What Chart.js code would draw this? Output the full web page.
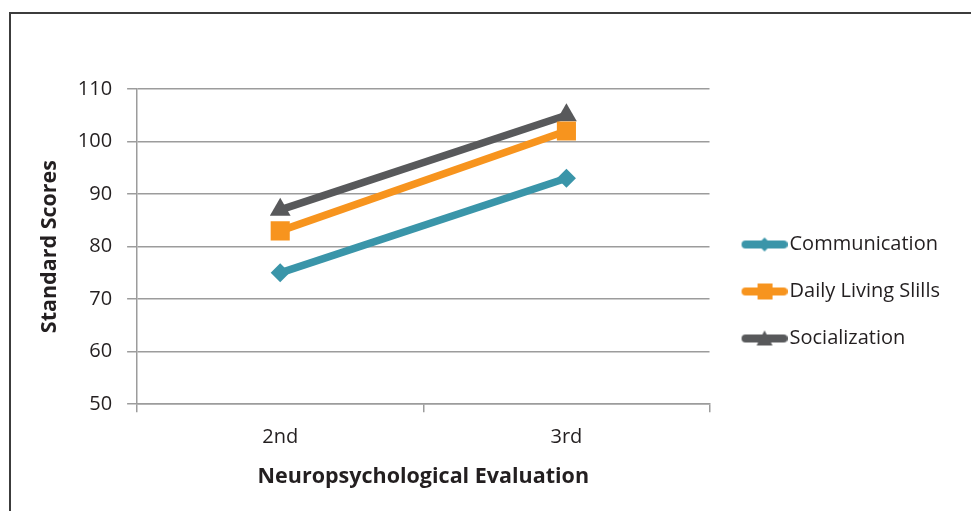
<!DOCTYPE html>
<html>
<head>
<meta charset="utf-8">
<script src="https://cdn.jsdelivr.net/npm/chart.js@4"></script>
<style>
  html, body { margin: 0; padding: 0; background: #fff; overflow: hidden; }
  #frame {
    position: absolute; left: 9px; top: 12px; width: 990px; height: 530px;
    border: 2px solid #3c3c3c; box-sizing: border-box;
  }
  #wrap { position: absolute; left: 0; top: 0; width: 971px; height: 511px; }
</style>
</head>
<body>
<div id="frame"></div>
<div id="wrap"><canvas id="evalChart" width="971" height="511"></canvas></div>
<script>
const evaluations = ["2nd", "3rd"];
const communication = [75, 93];
const dailyLiving = [83, 102];
const socialization = [87, 105];
const yTicks = [50, 60, 70, 80, 90, 100, 110];

const TEAL = "#3A95A9";
const ORANGE = "#F7941E";
const GRAY = "#58595B";
const FONT = "'Open Sans'";

// legend swatch: short thick line with the marker in the middle.
// the blank strip on the left keeps a gap between plot and legend
const SWATCH_GAP = 13;
function legendSwatch(color, style) {
    const c = document.createElement('canvas');
    c.width = 46 + SWATCH_GAP; c.height = 20;
    const g = c.getContext('2d');
    g.translate(SWATCH_GAP, 0);
    g.strokeStyle = color;
    g.lineWidth = 8;
    g.lineCap = 'round';
    g.beginPath();
    g.moveTo(4, 10); g.lineTo(42, 10);
    g.stroke();
    g.fillStyle = color;
    g.beginPath();
    if (style === 'rectRot') {
        g.moveTo(23, 3); g.lineTo(30, 10); g.lineTo(23, 17); g.lineTo(16, 10);
    } else if (style === 'rect') {
        g.rect(16, 2, 15, 16);
    } else {
        g.moveTo(23, 2); g.lineTo(31, 17); g.lineTo(15, 17);
    }
    g.closePath();
    g.fill();
    return c;
}

const series = [
    { label: "Communication", data: communication, color: TEAL, style: 'rectRot', r: 9.5 },
    { label: "Daily Living Slills", data: dailyLiving, color: ORANGE, style: 'rect', r: 13.5 },
    { label: "Socialization", data: socialization, color: GRAY, style: 'triangle', r: 12 }
];
const swatches = series.map(s => legendSwatch(s.color, s.style));

const ctx = document.getElementById('evalChart').getContext('2d');
new Chart(ctx, {
    type: 'line',
    data: {
        labels: evaluations,
        datasets: series.map(s => ({
            label: s.label,
            data: s.data,
            borderColor: s.color,
            backgroundColor: s.color,
            borderWidth: 7.5,
            pointStyle: s.style,
            pointRadius: s.r,
            pointHoverRadius: s.r,
            pointBorderWidth: 0,
            tension: 0
        }))
    },
    options: {
        responsive: false,
        animation: false,
        layout: { padding: { left: 37, top: 89, right: 21, bottom: 17 } },
        plugins: {
            tooltip: { enabled: false },
            legend: {
                position: 'right',
                maxWidth: 320,
                labels: {
                    usePointStyle: true,
                    pointStyleWidth: 30 + SWATCH_GAP,
                    padding: 27,
                    color: '#231F20',
                    font: { family: FONT, size: 20 },
                    generateLabels(chart) {
                        const items = Chart.defaults.plugins.legend.labels.generateLabels(chart);
                        items.forEach((it, i) => { it.pointStyle = swatches[i]; });
                        return items;
                    }
                }
            }
        },
        scales: {
            x: {
                offset: true,
                grid: { offset: true, drawOnChartArea: false, color: '#9C9C9C', lineWidth: 1.5, tickLength: 8 },
                border: { color: '#9C9C9C', width: 1.5 },
                ticks: { color: '#231F20', padding: 13, font: { family: FONT, size: 20 } },
                title: {
                    display: true,
                    text: 'Neuropsychological Evaluation',
                    color: '#231F20',
                    padding: { top: 2, bottom: 4 },
                    font: { family: FONT, size: 21.5, weight: 'bold' }
                }
            },
            y: {
                min: 50,
                max: 110,
                afterBuildTicks(axis) { axis.ticks = yTicks.map(v => ({ value: v })); },
                grid: { color: '#9C9C9C', lineWidth: 1.5, tickLength: 10 },
                border: { color: '#9C9C9C', width: 1.5 },
                ticks: { color: '#231F20', padding: 15, font: { family: FONT, size: 20 } },
                title: {
                    display: true,
                    text: 'Standard Scores',
                    color: '#231F20',
                    padding: { top: 0, bottom: 0 },
                    font: { family: FONT, size: 21.5, weight: 'bold' }
                }
            }
        }
    }
});
</script>
</body>
</html>
